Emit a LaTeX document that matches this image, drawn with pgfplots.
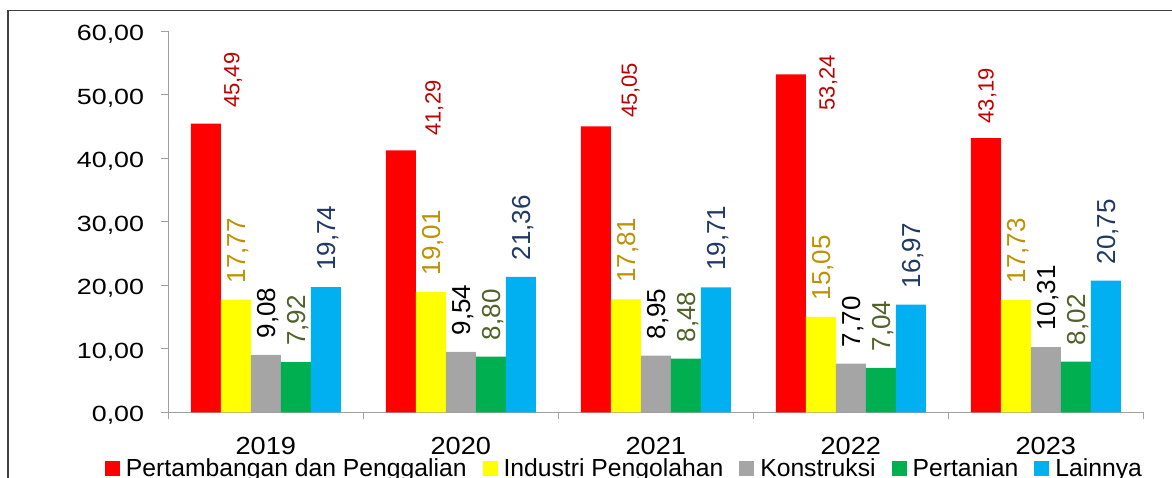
\documentclass[border=0pt]{standalone}
\usepackage{pgfplots}
\pgfplotsset{compat=1.18}
\usepackage{pgfplotstable}
\usepackage{fontspec}
\setmainfont{Liberation Sans}
\newfontfamily\tickfont[FakeStretch=1.22]{Liberation Sans}
\newfontfamily\yearfont[FakeStretch=1.1]{Liberation Sans}
\definecolor{bred}{HTML}{FF0000}
\definecolor{byel}{HTML}{FFFF00}
\definecolor{bgray}{HTML}{A5A5A5}
\definecolor{bgreen}{HTML}{00B050}
\definecolor{bblue}{HTML}{00B0F0}
\definecolor{lred}{HTML}{C00000}
\definecolor{lyel}{HTML}{BF9000}
\definecolor{lgreen}{HTML}{4F6228}
\definecolor{lblue}{HTML}{1F3864}
\definecolor{axisgray}{HTML}{A0A0A0}
\definecolor{framec}{HTML}{404040}

% x, value, label x-shift, label y-gap (pt)
\pgfplotstableread{
x y sx sy
0 45.49 33.6 15.8
1 41.29 39.9 14.6
2 45.05 41.1 8.4
3 53.24 43.9 -36.2
4 43.19 7.9 14.8
}\tambang
\pgfplotstableread{
x y
0 17.77
1 19.01
2 17.81
3 15.05
4 17.73
}\industri
\pgfplotstableread{
x y
0 9.08
1 9.54
2 8.95
3 7.70
4 10.31
}\konstruksi
\pgfplotstableread{
x y
0 7.92
1 8.80
2 8.48
3 7.04
4 8.02
}\pertanian
\pgfplotstableread{
x y
0 19.74
1 21.36
2 19.71
3 16.97
4 20.75
}\lainnya

\pgfplotsset{
  vlab/.style={
    nodes near coords={\pgfmathprintnumber[fixed,fixed zerofill,precision=2,use comma,assume math mode=true]{\pgfplotspointmeta}},
    every node near coord/.append style={xshift=9.3pt, yshift=16.3pt, rotate=90, anchor=base west, inner sep=0pt,
      font=\fontsize{26}{26}\selectfont, text=#1}
  }
}

\begin{document}
\begin{tikzpicture}[x=1pt,y=1pt]
\begin{axis}[
  at={(168.3pt,65.5pt)}, anchor=south west,
  scale only axis, width=975pt, height=381pt,
  xmin=-0.5, xmax=4.5, ymin=0, ymax=60,
  axis x line*=bottom, axis y line*=left,
  axis line style={draw=axisgray, line width=1pt},
  ybar=0pt, bar width=30pt,
  xtick={-0.5,0.5,1.5,2.5,3.5,4.5},
  xticklabels={,,,,,},
  extra x ticks={0,1,2,3,4},
  extra x tick labels={2019,2020,2021,2022,2023},
  extra x tick style={major tick length=0pt,
    xticklabel style={font=\yearfont\fontsize{24.7}{24.7}\selectfont, anchor=base, inner sep=0pt, yshift=-42pt}},
  ytick={0,10,20,30,40,50,60},
  yticklabels={{0,00},{10,00},{20,00},{30,00},{40,00},{50,00},{60,00}},
  tick style={draw=axisgray, line width=1pt},
  tick align=outside, major tick length=7pt,
  yticklabel style={font=\tickfont\fontsize{22}{22}\selectfont, anchor=base east, inner sep=0pt, yshift=-9.3pt, xshift=-17pt},
  clip=false,
  legend columns=5,
  legend image code/.code={\fill[#1] (0pt,-5.5pt) rectangle (15pt,9.5pt);},
  legend style={draw=none, fill=none, inner sep=0pt, outer sep=0pt,
    at={(0,0)}, anchor=north west, xshift=-63.3pt, yshift=-46.2pt,
    column sep=0pt,
    nodes={inner sep=0pt, text height=18pt, text depth=5pt, font=\fontsize{24.7}{24.7}\selectfont},
    /tikz/every odd column/.append style={column sep=6pt},
    /tikz/every even column/.append style={column sep=16pt}},
]
\addplot[fill=bred, draw=none,
  visualization depends on={\thisrow{sx} \as \labsx},
  visualization depends on={\thisrow{sy} \as \labsy},
  nodes near coords={\pgfmathprintnumber[fixed,fixed zerofill,precision=2,use comma,assume math mode=true]{\pgfplotspointmeta}},
  every node near coord/.append style={xshift=\labsx, yshift=\labsy, rotate=90, anchor=base west, inner sep=0pt,
      font=\fontsize{22}{22}\selectfont, text=lred}
  ] table[x=x,y=y] {\tambang};
\addplot[fill=byel, draw=none, vlab=lyel] table[x=x,y=y] {\industri};
\addplot[fill=bgray, draw=none, vlab=black] table[x=x,y=y] {\konstruksi};
\addplot[fill=bgreen, draw=none, vlab=lgreen] table[x=x,y=y] {\pertanian};
\addplot[fill=bblue, draw=none, vlab=lblue] table[x=x,y=y] {\lainnya};
\legend{Pertambangan dan Penggalian, Industri Pengolahan, Konstruksi, Pertanian, Lainnya}
\end{axis}
\draw[framec, line width=1.5pt] (8,-5) -- (8,467.3) -- (1180,467.3);
\pgfresetboundingbox
\useasboundingbox (0,0) rectangle (1172,478);
\end{tikzpicture}
\end{document}
